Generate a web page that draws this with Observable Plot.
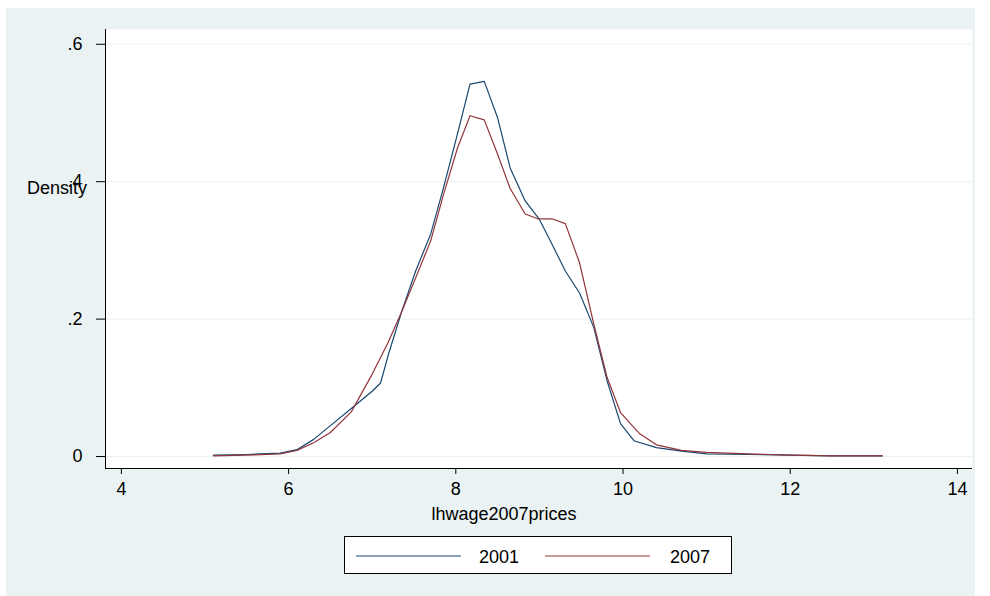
<!DOCTYPE html><html><head><meta charset="utf-8">
<script src="https://cdn.jsdelivr.net/npm/d3@7"></script>
<script src="https://cdn.jsdelivr.net/npm/@observablehq/plot@0.6"></script>
<style>body{margin:0;background:#fff;font-family:"Liberation Sans",Arial,sans-serif}
#wrap{position:relative;width:990px;height:596px;overflow:hidden}
#bg{position:absolute;left:6px;top:8px;width:969px;height:600px;background:#eaf2f3}
#chart{position:absolute;left:0;top:0}
#legend{position:absolute;left:344px;top:536px;width:388px;height:38px;background:#fff;border:1px solid #000;box-sizing:border-box}
</style></head><body>
<div id="wrap"><div id="bg"></div><div id="chart"></div>
<div id="legend"><svg width="388" height="38" style="font-family:'Liberation Sans',Arial,sans-serif">
<line x1="11" x2="116" y1="19" y2="19" stroke="#1a476f"/><text x="134" y="26" font-size="18">2001</text>
<line x1="200" x2="305" y1="19" y2="19" stroke="#90353b"/><text x="325" y="26" font-size="18">2007</text>
</svg></div></div>
<script>
const x2001=[5.1,5.5,5.9,6.1,6.3,6.5,6.75,7.0,7.1,7.19,7.35,7.52,7.70,7.85,8.0,8.17,8.34,8.50,8.65,8.83,9.0,9.13,9.31,9.48,9.65,9.81,9.97,10.13,10.4,10.7,11.0,11.5,12.0,12.5,13.1];
const y2001=[0.002,0.003,0.005,0.01,0.025,0.045,0.07,0.095,0.107,0.147,0.21,0.27,0.324,0.39,0.46,0.542,0.546,0.493,0.42,0.372,0.345,0.314,0.270,0.238,0.188,0.11,0.048,0.023,0.013,0.008,0.004,0.003,0.002,0.001,0.001];
const x2007=[5.1,5.5,5.9,6.1,6.3,6.5,6.75,7.0,7.19,7.35,7.52,7.70,7.85,8.02,8.17,8.34,8.50,8.65,8.83,8.98,9.15,9.31,9.48,9.65,9.81,9.97,10.2,10.4,10.7,11.0,11.5,12.0,12.5,13.1];
const y2007=[0.001,0.002,0.004,0.009,0.02,0.035,0.065,0.12,0.166,0.21,0.26,0.314,0.38,0.449,0.496,0.490,0.44,0.390,0.353,0.346,0.346,0.339,0.282,0.193,0.115,0.064,0.033,0.017,0.009,0.006,0.004,0.002,0.001,0.001];
const yTicks=[0,0.2,0.4,0.6], yLabels=["0",".2",".4",".6"];
const xTicks=[4,6,8,10,12,14];
const d1=x2001.map((x,i)=>({x,y:y2001[i]})), d2=x2007.map((x,i)=>({x,y:y2007[i]}));
const p=Plot.plot({width:990,height:596,marginLeft:105,marginRight:18,marginTop:29,marginBottom:128,
 style:{background:"transparent",fontFamily:"Liberation Sans, Arial, sans-serif",fontSize:"18px"},
 x:{domain:[3.81,14.18],label:null},y:{domain:[-0.0174,0.6215],label:null},
 marks:[
  Plot.frame({fill:"#fff",stroke:null}),
  Plot.gridY(yTicks,{stroke:"#eaf2f3",strokeOpacity:1}),
  Plot.axisY(yTicks,{tickFormat:(d,i)=>yLabels[i],tickSize:9,tickPadding:14,fontSize:18,label:null}),
  Plot.axisX(xTicks,{tickSize:6,fontSize:18,tickPadding:8,label:null}),
  Plot.ruleX([3.81],{stroke:"#000"}),
  Plot.ruleY([-0.0174],{stroke:"#000"}),
  Plot.line(d1,{x:"x",y:"y",stroke:"#1a476f",strokeWidth:1.2}),
  Plot.line(d2,{x:"x",y:"y",stroke:"#90353b",strokeWidth:1.2}),
 ]});
document.getElementById("chart").appendChild(p);
const s=d3.select(p);
s.append("text").attr("x",27).attr("y",194).attr("text-anchor","start").attr("font-size",18).text("Density");
s.append("text").attr("x",504).attr("y",520).attr("text-anchor","middle").attr("font-size",18).text("lhwage2007prices");
</script></body></html>
